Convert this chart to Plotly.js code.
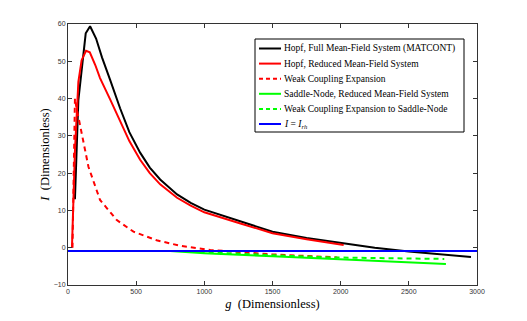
<!DOCTYPE html>
<html>
<head>
<meta charset="utf-8">
<script src="https://cdn.plot.ly/plotly-3.0.1.min.js"></script>
<style>
  html, body { margin: 0; padding: 0; background: #fff; }
  #graph { width: 527px; height: 321px; }
</style>
</head>
<body>
<div id="graph"></div>
<script>
// Hopf, full mean-field system (MATCONT)
const hopfFullG = [51, 76, 130, 162, 206, 250, 309, 382, 450, 529, 600, 676, 800, 900, 1000, 1265, 1500, 1750, 2000, 2250, 2500, 2750, 2956];
const hopfFullI = [13.0, 39.6, 57.5, 59.4, 56.1, 51.0, 45.0, 37.4, 31.0, 25.5, 21.5, 18.3, 14.3, 12.0, 10.2, 7.0, 4.3, 2.6, 1.2, 0.0, -1.0, -1.8, -2.5];

// Hopf, reduced mean-field system
const hopfRedG = [29, 51, 76, 100, 132, 160, 200, 235, 309, 382, 450, 529, 600, 676, 800, 900, 1000, 1265, 1500, 1750, 2000, 2022];
const hopfRedI = [0.0, 26.0, 44.5, 50.3, 52.8, 52.4, 49.0, 45.5, 39.8, 33.8, 28.6, 23.6, 20.0, 17.0, 13.4, 11.3, 9.5, 6.5, 3.9, 2.3, 0.9, 0.7];

// Weak coupling expansion
const weakG = [33, 42, 51, 60, 100, 150, 235, 358, 480, 650, 824, 1044, 1500, 1975];
const weakI = [0.0, 25.0, 40.0, 38.0, 30.7, 21.7, 12.8, 7.4, 4.3, 2.0, 0.5, -0.6, -1.8, -2.6];

// Saddle-node, reduced mean-field system
const snRedG = [750, 1000, 1500, 2000, 2500, 2772];
const snRedI = [-0.9, -1.5, -2.3, -3.1, -3.8, -4.4];

// Weak coupling expansion to saddle-node
const snWeakG = [900, 1000, 1559, 1926, 2500, 2760];
const snWeakI = [-0.9, -1.2, -2.1, -2.6, -2.9, -3.0];

// I = I_rh
const rhG = [0, 3000];
const rhI = [-0.85, -0.85];

const serif = '"Liberation Serif", "Times New Roman", Times, serif';

const series = [
  { x: hopfFullG, y: hopfFullI, name: 'Hopf, Full Mean-Field System (MATCONT)', color: '#000000', dash: 'solid' },
  { x: hopfRedG, y: hopfRedI, name: 'Hopf, Reduced Mean-Field System', color: '#ff0000', dash: 'solid' },
  { x: weakG, y: weakI, name: 'Weak Coupling Expansion', color: '#ff0000', dash: '5px,4px' },
  { x: snRedG, y: snRedI, name: 'Saddle-Node, Reduced Mean-Field System', color: '#00ff00', dash: 'solid' },
  { x: snWeakG, y: snWeakI, name: 'Weak Coupling Expansion to Saddle-Node', color: '#00ff00', dash: '5px,4px' },
  { x: rhG, y: rhI, name: '<i>I</i> = <i>I</i><sub><i>rh</i></sub>', color: '#0000ff', dash: 'solid' }
];

const traces = series.map(s => ({
  x: s.x, y: s.y, name: s.name, mode: 'lines', showlegend: false,
  line: { color: s.color, width: 2, dash: s.dash }
}));

// legend box drawn by hand (compact rows like the original figure)
const W = 527, H = 321;
const mL = 68, mR = 50, mT = 24, mB = 36;
const pw = W - mL - mR, ph = H - mT - mB;
const px = v => (v - mL) / pw;
const py = v => (H - mB - v) / ph;

const shapes = [{
  type: 'rect', xref: 'paper', yref: 'paper',
  x0: px(255), x1: px(464), y0: py(132), y1: py(39),
  line: { color: '#000', width: 1 }, fillcolor: '#fff', layer: 'above'
}];
const annotations = [];
series.forEach((s, i) => {
  const yy = 48.5 + 15.1 * i;
  shapes.push({
    type: 'line', xref: 'paper', yref: 'paper',
    x0: px(259), x1: px(281), y0: py(yy), y1: py(yy),
    line: { color: s.color, width: 2, dash: s.dash === 'solid' ? 'solid' : '4px,3px' }, layer: 'above'
  });
  annotations.push({
    xref: 'paper', yref: 'paper', x: px(282), y: py(yy),
    xanchor: 'left', yanchor: 'middle', showarrow: false,
    text: s.name, font: { family: serif, size: 9.5, color: '#000' }
  });
});

const axisStyle = {
  showgrid: false,
  zeroline: false,
  showline: true,
  mirror: 'ticks',
  linecolor: '#333',
  linewidth: 1,
  ticks: 'inside',
  ticklen: 4,
  tickcolor: '#333',
  tickfont: { family: 'Liberation Sans', size: 7, color: '#333' }
};

const layout = {
  width: W,
  height: H,
  margin: { l: mL, r: mR, t: mT, b: mB },
  paper_bgcolor: '#fff',
  plot_bgcolor: '#fff',
  showlegend: false,
  shapes: shapes,
  annotations: annotations,
  xaxis: Object.assign({}, axisStyle, {
    range: [0, 3000],
    tickvals: [0, 500, 1000, 1500, 2000, 2500, 3000],
    title: { text: '<i>g</i>  (Dimensionless)', standoff: 4,
      font: { family: serif, size: 12.5, color: '#000' } }
  }),
  yaxis: Object.assign({}, axisStyle, {
    range: [-10, 60],
    tickvals: [-10, 0, 10, 20, 30, 40, 50, 60],
    title: { text: '<i>I</i>  (Dimensionless)', standoff: 1,
      font: { family: serif, size: 12.5, color: '#000' } }
  })
};

Plotly.newPlot('graph', traces, layout, { displayModeBar: false, staticPlot: true });
</script>
</body>
</html>
